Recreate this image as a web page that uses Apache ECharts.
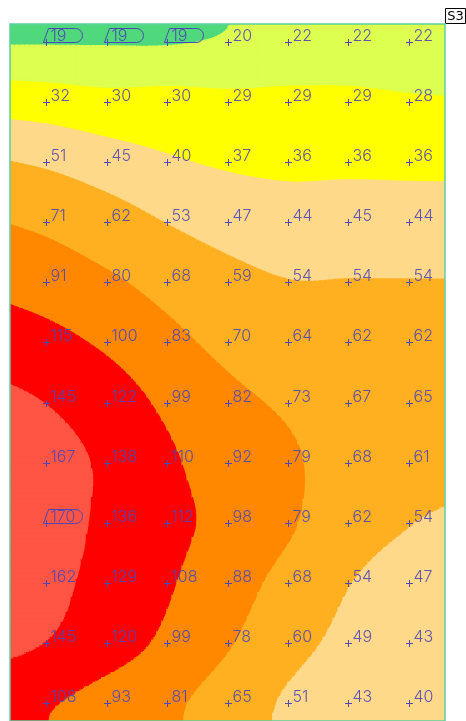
<!DOCTYPE html>
<html><head><meta charset="utf-8">
<script src="https://cdn.jsdelivr.net/npm/echarts@6/dist/echarts.min.js"></script>
<style>html,body{margin:0;padding:0;background:#fff}#c{width:466px;height:721px}</style>
</head><body><div id="c"></div>
<script>
// ---- data (measured values, rows top to bottom, 7 columns) ----
const row01 = [19, 19, 19, 20, 22, 22, 22];
const row02 = [32, 30, 30, 29, 29, 29, 28];
const row03 = [51, 45, 40, 37, 36, 36, 36];
const row04 = [71, 62, 53, 47, 44, 45, 44];
const row05 = [91, 80, 68, 59, 54, 54, 54];
const row06 = [115, 100, 83, 70, 64, 62, 62];
const row07 = [145, 122, 99, 82, 73, 67, 65];
const row08 = [167, 138, 110, 92, 79, 68, 61];
const row09 = [170, 136, 112, 98, 79, 62, 54];
const row10 = [162, 129, 108, 88, 68, 54, 47];
const row11 = [145, 120, 99, 78, 60, 49, 43];
const row12 = [108, 93, 81, 65, 51, 43, 40];
const contourLevels = [19.4, 27, 38.5, 53.5, 76, 105, 146];
const bandColors = ['#4fd97c', '#dcff50', '#ffff00', '#ffd98a', '#ffb020', '#ff8800', '#ff0000', '#ff5544'];
const plotTag = 'S3';

const grid = [row01, row02, row03, row04, row05, row06, row07, row08, row09, row10, row11, row12];
const NC = grid[0].length, NR = grid.length;
const X_MIN = -0.6, X_MAX = NC - 1 + 0.6, Y_MIN = -0.3, Y_MAX = NR - 1 + 0.3;
const STEPS = 12;
const LABEL_COLOR = '#5046b4';
// how strongly the field continues its slope past the outer points (edge margins)
const EXT_LEFT = 0.75, EXT_RIGHT = 0.5, EXT_TOP = 0, EXT_BOTTOM = 0;

let minV = Infinity, maxV = -Infinity;
grid.forEach(r => r.forEach(v => { minV = Math.min(minV, v); maxV = Math.max(maxV, v); }));

function gv(i, j) {
  if (i < 0) return gv(0, j) + EXT_LEFT * i * (gv(1, j) - gv(0, j));
  if (i > NC - 1) return gv(NC - 1, j) + EXT_RIGHT * (i - (NC - 1)) * (gv(NC - 1, j) - gv(NC - 2, j));
  if (j < 0) return gv(i, 0) + EXT_TOP * j * (gv(i, 1) - gv(i, 0));
  if (j > NR - 1) return gv(i, NR - 1) + EXT_BOTTOM * (j - (NR - 1)) * (gv(i, NR - 1) - gv(i, NR - 2));
  return grid[j][i];
}
function cr(p0, p1, p2, p3, t) {
  return 0.5 * (2 * p1 + (-p0 + p2) * t + (2 * p0 - 5 * p1 + 4 * p2 - p3) * t * t + (-p0 + 3 * p1 - 3 * p2 + p3) * t * t * t);
}
function field(x, y) {
  const i = Math.floor(x), j = Math.floor(y);
  const t = x - i, u = y - j;
  const r = [];
  for (let m = -1; m <= 2; m++) {
    r.push(cr(gv(i - 1, j + m), gv(i, j + m), gv(i + 1, j + m), gv(i + 2, j + m), t));
  }
  return cr(r[0], r[1], r[2], r[3], u);
}
function band(v) { let k = 0; while (k < contourLevels.length && v >= contourLevels[k]) k++; return k; }
function clip(poly, level, keepAbove) {
  const out = [];
  for (let k = 0; k < poly.length; k++) {
    const a = poly[k], b = poly[(k + 1) % poly.length];
    const ina = keepAbove ? a.v >= level : a.v <= level;
    const inb = keepAbove ? b.v >= level : b.v <= level;
    if (ina) out.push(a);
    if (ina !== inb) {
      const t = (level - a.v) / (b.v - a.v);
      out.push({ x: a.x + t * (b.x - a.x), y: a.y + t * (b.y - a.y), v: level });
    }
  }
  return out;
}
function shape(points, k) {
  return { type: 'polygon', silent: true, shape: { points: points },
    style: { fill: bandColors[k], stroke: bandColors[k], lineWidth: 1.5, lineJoin: 'round' } };
}
function triBands(tri, children) {
  const vs = tri.map(p => p.v);
  const k0 = band(Math.min(...vs)), k1 = band(Math.max(...vs));
  for (let k = k0; k <= k1; k++) {
    let poly = tri;
    if (k > 0) poly = clip(poly, contourLevels[k - 1], true);
    if (k < contourLevels.length && poly.length) poly = clip(poly, contourLevels[k], false);
    if (poly.length >= 3) children.push(shape(poly.map(p => [p.x, p.y]), k));
  }
}

const points = [];
grid.forEach((r, j) => r.forEach((v, i) => points.push([i, j, v])));

function renderFill(params, api) {
  const c = api.value(0), r = api.value(1);
  const x0 = c === 0 ? X_MIN : c - 0.5, x1 = c === NC - 1 ? X_MAX : c + 0.5;
  const y0 = r === 0 ? Y_MIN : r - 0.5, y1 = r === NR - 1 ? Y_MAX : r + 0.5;
  const nx = Math.max(1, Math.round((x1 - x0) * STEPS)), ny = Math.max(1, Math.round((y1 - y0) * STEPS));
  const P = [];
  for (let iy = 0; iy <= ny; iy++) {
    const row = [];
    for (let ix = 0; ix <= nx; ix++) {
      const dx = x0 + (x1 - x0) * ix / nx, dy = y0 + (y1 - y0) * iy / ny;
      const p = api.coord([dx, dy]);
      row.push({ x: p[0], y: p[1], v: field(dx, dy) });
    }
    P.push(row);
  }
  const children = [];
  for (let iy = 0; iy < ny; iy++) {
    let run = null;
    const flush = () => {
      if (run) {
        children.push(shape([[run.a.x, run.a.y], [run.b.x, run.b.y], [run.c.x, run.c.y], [run.d.x, run.d.y]], run.k));
        run = null;
      }
    };
    for (let ix = 0; ix < nx; ix++) {
      const a = P[iy][ix], b = P[iy][ix + 1], cc = P[iy + 1][ix + 1], d = P[iy + 1][ix];
      const ka = band(a.v), kb = band(b.v), kc = band(cc.v), kd = band(d.v);
      if (ka === kb && kb === kc && kc === kd) {
        if (run && run.k === ka) { run.b = b; run.c = cc; }
        else { flush(); run = { k: ka, a: a, b: b, c: cc, d: d }; }
      } else {
        flush();
        triBands([a, b, cc], children);
        triBands([a, cc, d], children);
      }
    }
    flush();
  }
  return { type: 'group', children: children };
}

function renderLabel(params, api) {
  const p = api.coord([api.value(0), api.value(1)]);
  const v = api.value(2);
  const px = Math.round(p[0]) + 0.5, py = Math.round(p[1]) + 0.5;
  const ls = { stroke: LABEL_COLOR, lineWidth: 1 };
  const children = [
    { type: 'line', shape: { x1: px - 3.5, y1: py, x2: px + 3.5, y2: py }, style: ls },
    { type: 'line', shape: { x1: px, y1: py - 3.5, x2: px, y2: py + 3.5 }, style: ls },
    { type: 'text', x: px + 4, y: py + 2, style: { text: String(v), fill: LABEL_COLOR, opacity: 0.9,
      font: '300 16px Inter', align: 'left', verticalAlign: 'bottom' } }
  ];
  if (v === minV || v === maxV) {
    const top = py - 14, r = 7, xr = px + 29;
    children.push({ type: 'path', shape: { pathData:
      'M' + (px - 3) + ' ' + py + ' L' + (px + 2) + ' ' + top + ' L' + xr + ' ' + top +
      ' A' + r + ' ' + r + ' 0 0 1 ' + xr + ' ' + py + ' Z' },
      style: { fill: null, stroke: LABEL_COLOR, lineWidth: 1 } });
  }
  return { type: 'group', children: children };
}

function renderFrame(params, api) {
  const a = api.coord([X_MIN, Y_MIN]), b = api.coord([X_MAX, Y_MAX]);
  return { type: 'rect', shape: { x: a[0], y: a[1], width: b[0] - a[0], height: b[1] - a[1] },
    style: { fill: null, stroke: '#5dcfa0', lineWidth: 1.5 } };
}

const chart = echarts.init(document.getElementById('c'), null, { renderer: 'canvas' });
chart.setOption({
  animation: false,
  backgroundColor: '#ffffff',
  grid: { left: 10, top: 24, width: 435, height: 700 },
  xAxis: { type: 'value', min: X_MIN, max: X_MAX, show: false },
  yAxis: { type: 'value', min: Y_MIN, max: Y_MAX, inverse: true, show: false },
  graphic: [
    { type: 'rect', shape: { x: 445.5, y: 8.5, width: 20, height: 15 },
      style: { fill: '#fff', stroke: '#000', lineWidth: 1 } },
    { type: 'text', x: 455.5, y: 16.5, style: { text: plotTag, font: '13px "DejaVu Sans"',
      fill: '#000', align: 'center', verticalAlign: 'middle' } }
  ],
  series: [
    { type: 'custom', data: points, renderItem: renderFill, z: 1, silent: true, clip: true },
    { type: 'custom', data: [[0, 0]], renderItem: renderFrame, z: 3, silent: true },
    { type: 'custom', data: points, renderItem: renderLabel, z: 5, silent: true }
  ]
});
</script>
</body></html>
